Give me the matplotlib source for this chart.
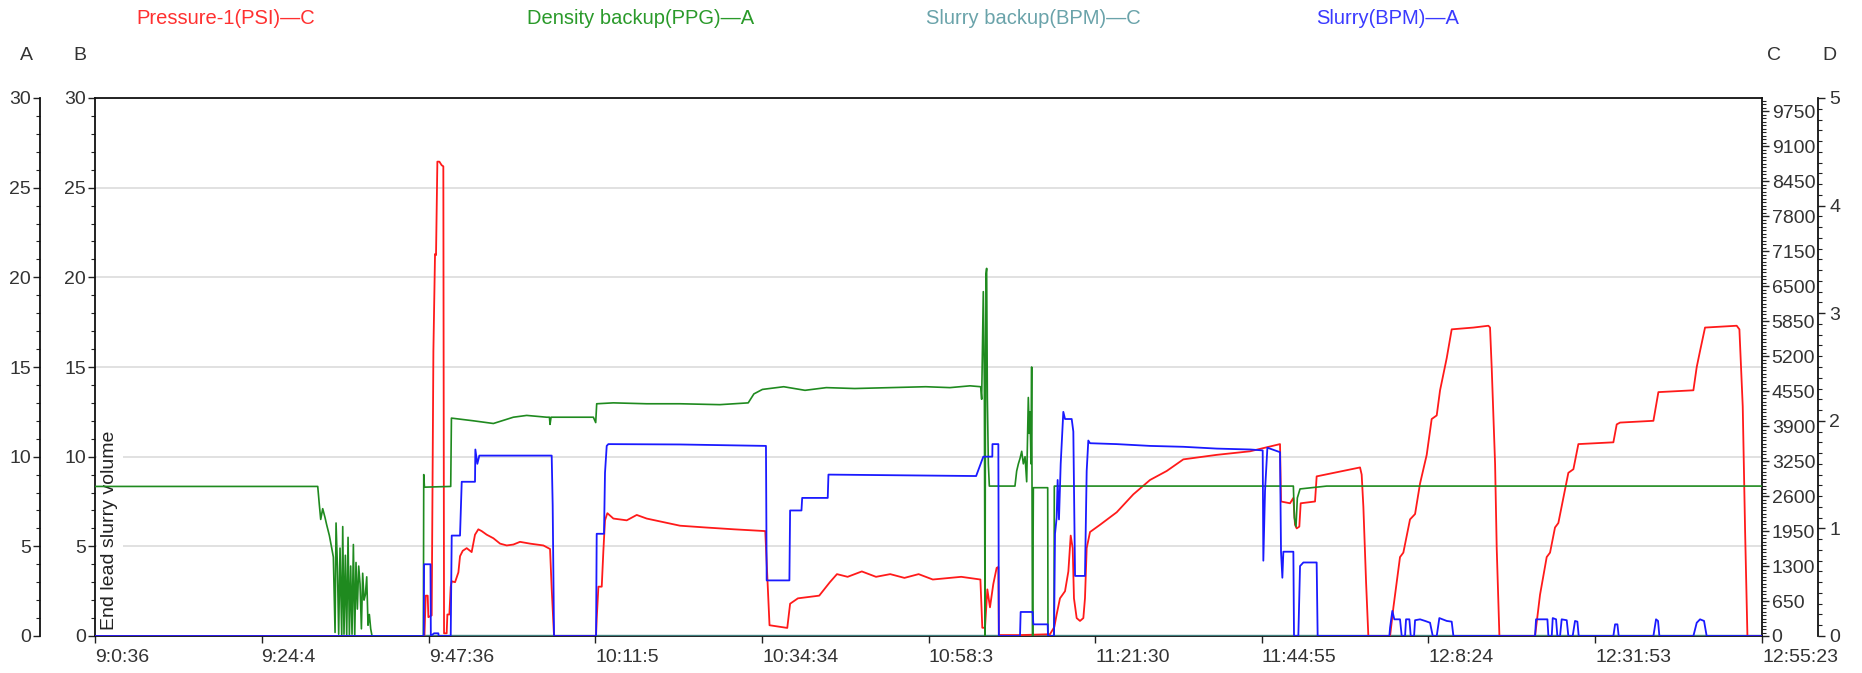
#!/usr/bin/env python3
"""Cementing job trend: pressure, density and slurry rate on four stacked y-axes."""

import matplotlib.pyplot as plt
from matplotlib.ticker import MultipleLocator

W_PX, H_PX = 1862, 673
DPI = 100

# plot frame in figure pixels
LEFT, RIGHT, TOP, BOTTOM = 95, 1762, 98, 636
AXIS_A_X = 40
AXIS_D_X = 1818

FS = 14
FS_LEGEND = 14.5
TXT = "#333333"

TICK_LABELS = ["9:0:36", "9:24:4", "9:47:36", "10:11:5", "10:34:34", "10:58:3",
               "11:21:30", "11:44:55", "12:8:24", "12:31:53", "12:55:23"]

# time in minutes after 9:0:36
pressure_t = [0, 46.4, 46.58, 46.86, 46.95, 47.42, 47.66, 47.89, 48.03, 48.22, 48.5, 48.83,
              49.06, 49.16, 49.53, 49.63, 49.91, 50.1, 50.24, 50.71, 51.18, 51.41, 51.79,
              52.35, 53.05, 53.52, 53.99, 54.46, 55.17, 56.11, 57.05, 57.99, 58.92, 59.86,
              61.27, 63.15, 64.09, 64.32, 64.56, 64.65, 70.57, 70.66, 70.9, 71.37, 71.6,
              71.83, 72.16, 73.01, 74.89, 76.3, 77.7, 80.05, 82.4, 86, 90, 94.4, 95.0, 97.5,
              97.9, 99, 102, 103.5, 104.5, 106, 108, 110, 112, 114, 116, 118, 120.4, 122,
              124.7, 124.97, 125.35, 125.68, 126.05, 126.52, 126.99, 127.23, 127.3, 130.28,
              134.5, 135.11, 135.44, 135.91, 136.62, 137.09, 137.42, 137.7, 137.88, 138.26,
              138.73, 139.2, 139.43, 139.67, 140.14, 141.55, 143.9, 146.24, 148.59, 150.94,
              153.28, 157.98, 162.67, 164.79, 166.9, 167.04, 168.31, 168.78, 169.01, 169.25,
              169.62, 169.81, 171.83, 172.06, 178.17, 178.4, 178.64, 179.02, 179.34, 182.4,
              182.87, 183.8, 184.27, 185.21, 185.92, 186.62, 187.56, 188.26, 188.97, 189.44,
              190.38, 191.08, 194.13, 196.25, 196.48, 196.72, 197.19, 197.42, 197.8, 202.82,
              203.52, 204.46, 204.93, 205.63, 206.1, 206.81, 207.51, 208.22, 208.92, 213.85,
              214.32, 214.79, 219.49, 220.19, 225.12, 225.59, 226.06, 226.76, 231.22, 231.6,
              232.07, 232.4, 232.73, 234.78]
pressure_psi = [0, 0, 750, 750, 350, 383, 5300, 7100, 7080, 8817, 8817, 8750,
                8730, 50, 50, 400, 400, 917, 1017, 1000, 1183, 1483, 1583,
                1633, 1560, 1883, 1983, 1950, 1883, 1817, 1717, 1683, 1700, 1750,
                1717, 1683, 1617, 883, 217, 0, 0, 317, 917, 917, 1583,
                2150, 2283, 2183, 2150, 2250, 2183, 2117, 2050, 2017, 1983, 1950, 200, 150,
                600, 700, 750, 1000, 1150, 1100, 1200, 1100, 1150, 1080, 1150, 1050, 1080, 1100,
                1050, 153, 153, 867, 533, 967, 1267, 1283, 17, 17,
                33, 167, 400, 700, 833, 1200, 1867, 1633, 700, 333,
                280, 333, 700, 1633, 1933, 2067, 2300, 2633, 2900, 3067,
                3283, 3367, 3433, 3500, 3567, 2500, 2467, 2567, 2067, 2000,
                2033, 2467, 2500, 2967, 3133, 3000, 2400, 1000, 0, 0,
                533, 1467, 1550, 2167, 2267, 2833, 3367, 4033, 4100, 4567,
                5167, 5700, 5733, 5767, 5733, 4967, 3200, 1633, 0, 0,
                767, 1467, 1550, 2017, 2100, 2567, 3033, 3100, 3567, 3600,
                3933, 3967, 4000, 4533, 4567, 5000, 5300, 5733, 5767, 5700,
                4267, 1967, 0, 0]

density_t = [0, 31.37, 31.6, 31.79, 32.07, 32.4, 32.63, 33.01, 33.34, 33.57, 33.81, 33.95,
             34.14, 34.32, 34.51, 34.75, 34.89, 35.07, 35.26, 35.45, 35.64, 35.83, 36.01,
             36.2, 36.39, 36.58, 36.76, 36.95, 37.14, 37.33, 37.52, 37.7, 37.89, 38.08,
             38.27, 38.45, 38.64, 38.83, 39.02, 46.25, 46.3, 46.4, 50.1, 50.2, 53.29,
             56.11, 58.92, 60.8, 63.62, 64.0, 64.09, 64.23, 70.19, 70.52, 70.66, 73.0,
             77.7, 82.4, 88.0, 92.0, 92.8, 94.0, 97.0, 100.0, 103.0, 107.0, 112.0, 117.0,
             120.42, 123.24, 124.74, 124.88, 125.11, 125.26, 125.35, 125.4, 125.49,
             125.58, 125.68, 125.82, 125.96, 129.57, 129.81, 130.05, 130.28, 130.52,
             130.75, 130.99, 131.22, 131.45, 131.59, 131.69, 131.83, 131.92, 132.02,
             132.06, 132.16, 134.18, 134.22, 135.07, 135.11, 168.78, 168.92, 169.15,
             169.34, 169.72, 172.06, 173.47, 234.78]
density_ppg = [8.34, 8.34, 7.3, 6.5, 7.1, 6.6, 6.2, 5.6, 4.9, 4.4, 0.2, 6.3,
               3.9, 0.1, 4.9, 0.0, 6.1, 0.1, 4.5, 0.0, 5.5, 0.0, 3.9,
               0.1, 5.1, 0.0, 4.1, 1.5, 3.9, 2.9, 0.4, 3.5, 2.0, 2.3,
               3.3, 0.6, 1.2, 0.4, 0.0, 0.0, 9.0, 8.3, 8.34, 12.15, 12.0,
               11.85, 12.2, 12.3, 12.2, 12.2, 11.8, 12.2, 12.2, 11.9, 12.95, 13.0,
               12.95, 12.95, 12.9, 13.0, 13.5, 13.75, 13.9, 13.7, 13.85, 13.8, 13.85, 13.9,
               13.85, 13.95, 13.9, 13.2, 19.2, 14.0, 0.0, 10.9, 20.2,
               20.5, 13.3, 9.6, 8.36, 8.36, 9.2, 9.6, 9.9, 10.3,
               9.6, 10.0, 8.6, 13.3, 11.3, 12.5, 9.6, 15.0, 2.1,
               0.0, 8.27, 8.27, 0.0, 0.0, 8.36, 8.36, 6.6, 6.1,
               7.7, 8.2, 8.3, 8.36, 8.36]

slurry_t = [0, 46.3, 46.35, 47.25, 47.3, 47.75, 48.36, 48.4, 50.1, 50.24, 51.41, 51.65,
            53.52, 53.57, 53.85, 54.13, 64.32, 64.46, 64.65, 70.57, 70.66, 71.69, 71.83,
            72.07, 72.3, 82.4, 94.5, 94.6, 97.8, 97.9, 99.5, 99.6, 103.2, 103.3, 124.1,
            125.11, 126.38, 126.4, 127.23, 127.3, 130.28, 130.37, 132.06, 132.16, 134.18,
            134.22, 135.07, 135.21, 135.44, 135.58, 135.77, 136.01, 136.38, 136.62,
            137.56, 137.79, 138.03, 139.43, 139.67, 139.9, 140.14, 143.9, 148.6, 153.3,
            158.0, 162.7, 164.46, 164.55, 164.79, 165.12, 166.9, 167.04, 167.23, 167.37,
            168.78, 168.87, 169.48, 169.72, 170.19, 172.06, 172.2, 182.3, 182.4, 182.72,
            183.0, 183.8, 184.04, 184.51, 184.65, 185.12, 185.31, 185.78, 185.92, 186.62,
            187.33, 188.03, 188.41, 188.97, 189.34, 190.38, 191.08, 191.32, 202.82,
            202.96, 204.56, 204.7, 205.17, 205.31, 205.78, 205.96, 206.34, 206.57,
            207.28, 207.51, 208.12, 208.45, 208.78, 208.97, 213.85, 214.09, 214.42,
            214.6, 219.49, 219.86, 220.14, 220.33, 225.12, 225.59, 226.06, 226.62,
            226.99, 234.78]
slurry_bpm = [0, 0, 4.0, 4.0, 0, 0.15, 0.15, 0, 0, 5.6, 5.6, 8.6,
              8.6, 10.4, 9.6, 10.06, 10.06, 7.3, 0, 0, 5.7, 5.7, 9.1,
              10.6, 10.7, 10.68, 10.6, 3.1, 3.1, 7.0, 7.0, 7.7, 7.7, 9.0, 8.92,
              10.0, 10.0, 10.7, 10.7, 0, 0, 1.34, 1.34, 0.65, 0.65,
              0, 0, 5.7, 6.6, 8.7, 6.5, 9.6, 12.5, 12.1,
              12.1, 11.4, 3.35, 3.35, 9.2, 10.9, 10.75, 10.7, 10.6, 10.55,
              10.45, 10.4, 10.35, 4.2, 8.1, 10.5, 10.25, 4.7, 3.25, 4.7,
              4.7, 0, 0, 3.9, 4.1, 4.1, 0, 0, 0.47, 1.4,
              0.93, 0.93, 0, 0, 0.93, 0.93, 0, 0, 0.88, 0.93,
              0.84, 0.74, 0, 0, 1.0, 0.84, 0.8, 0, 0,
              0.93, 0.93, 0, 0, 1.0, 0.93, 0, 0, 0.93,
              0.88, 0, 0, 0.84, 0.8, 0, 0, 0.65, 0.65,
              0, 0, 0.93, 0.84, 0, 0, 0.74, 0.93, 0.84,
              0, 0]

backup_t = [46.3, 234.78]
backup_bpm = [0, 0]


def to_minutes(label: str) -> float:
    h, m, s = (int(v) for v in label.split(":"))
    h0, m0, s0 = (int(v) for v in TICK_LABELS[0].split(":"))
    return ((h * 3600 + m * 60 + s) - (h0 * 3600 + m0 * 60 + s0)) / 60.0


def fx(px: float) -> float:
    return px / W_PX


def fy(py: float) -> float:
    return 1 - py / H_PX


def hide_spines(ax, keep: str) -> None:
    for name, sp in ax.spines.items():
        sp.set_visible(name == keep)


def style_y(ax, side: str, major, minor, pad, length=5) -> None:
    ax.yaxis.set_major_locator(major)
    ax.yaxis.set_minor_locator(minor)
    ax.yaxis.set_ticks_position(side)
    ax.tick_params(axis="y", which="major", direction="out", length=length, width=1,
                   labelsize=FS, labelcolor=TXT, pad=pad, color="#222222")
    ax.tick_params(axis="y", which="minor", direction="out", length=3, width=0.8,
                   color="#222222")


def main() -> None:
    plt.rcParams.update({
        "font.family": ["Liberation Sans", "DejaVu Sans"],
    })

    fig = plt.figure(figsize=(W_PX / DPI, H_PX / DPI), dpi=DPI, facecolor="white")
    ax = fig.add_axes([fx(LEFT), fy(BOTTOM), fx(RIGHT - LEFT), (BOTTOM - TOP) / H_PX])
    width = RIGHT - LEFT

    # B axis: the frame's own left axis
    xmax = to_minutes(TICK_LABELS[-1])
    ax.set_xlim(0, xmax)
    ax.set_ylim(0, 30)
    style_y(ax, "left", MultipleLocator(5), MultipleLocator(1), pad=1.5)
    ax.grid(axis="y", which="major", color="#dedede", lw=1.3)
    ax.set_axisbelow(True)
    for sp in ax.spines.values():
        sp.set_linewidth(1.3)
        sp.set_color("#111111")
    ax.spines["right"].set_visible(False)

    ax.set_xticks([to_minutes(t) for t in TICK_LABELS])
    ax.set_xticklabels(TICK_LABELS, ha="left")
    ax.tick_params(axis="x", direction="out", length=5, width=1, labelsize=FS,
                   labelcolor=TXT, pad=4, color="#222222")

    ax.text(15 / width, 0.012, "End lead slurry volume", transform=ax.transAxes,
            rotation=90, ha="center", va="bottom", fontsize=FS, color="#222222",
            bbox=dict(facecolor="white", edgecolor="none", pad=3.5),
            zorder=3, clip_on=False)

    # C axis: pressure / slurry backup
    ax_c = ax.twinx()
    ax_c.set_ylim(0, 10000)
    hide_spines(ax_c, "right")
    ax_c.spines["right"].set_linewidth(1.3)
    ax_c.spines["right"].set_color("#111111")
    style_y(ax_c, "right", MultipleLocator(650), MultipleLocator(65), pad=2)

    # A axis: density / slurry rate
    ax_a = ax.twinx()
    ax_a.set_ylim(0, 30)
    hide_spines(ax_a, "left")
    ax_a.spines["left"].set_position(("axes", (AXIS_A_X - LEFT) / width))
    ax_a.spines["left"].set_linewidth(1.3)
    ax_a.spines["left"].set_color("#111111")
    style_y(ax_a, "left", MultipleLocator(5), MultipleLocator(1), pad=1.5)

    # D axis: unused 0-5 scale
    ax_d = ax.twinx()
    ax_d.set_ylim(0, 5)
    hide_spines(ax_d, "right")
    ax_d.spines["right"].set_position(("axes", (AXIS_D_X - LEFT) / width))
    ax_d.spines["right"].set_linewidth(1.3)
    ax_d.spines["right"].set_color("#111111")
    style_y(ax_d, "right", MultipleLocator(1), MultipleLocator(0.1), pad=3)

    for z, a in enumerate([ax, ax_c, ax_a, ax_d]):
        a.set_zorder(z)
        if z:
            a.patch.set_visible(False)

    ax_c.plot(backup_t, backup_bpm, color="#3f7f7f", lw=1.7, zorder=2)
    ax_c.plot(pressure_t, pressure_psi, color="#ff1a1a", lw=1.3, zorder=3)
    ax_a.plot(density_t, density_ppg, color="#1f8a1f", lw=1.2, zorder=2)
    ax_a.plot(slurry_t, slurry_bpm, color="#1a1aff", lw=1.3, zorder=3)

    # series captions along the top
    legend = [
        (136, "Pressure-1(PSI)\u2014C", "#ff3030"),
        (527, "Density backup(PPG)\u2014A", "#2a9a2a"),
        (926, "Slurry backup(BPM)\u2014C", "#6aa3aa"),
        (1316, "Slurry(BPM)\u2014A", "#3a3aff"),
    ]
    for x, label, color in legend:
        fig.text(fx(x), fy(18), label, color=color, fontsize=FS_LEGEND, ha="left",
                 va="center")

    for x, letter in [(26, "A"), (80, "B"), (1774, "C"), (1829, "D")]:
        fig.text(fx(x), fy(56), letter, color=TXT, fontsize=FS, ha="center", va="center")

    fig.savefig("out.png", dpi=DPI, facecolor="white")
    plt.close(fig)


if __name__ == "__main__":
    main()
